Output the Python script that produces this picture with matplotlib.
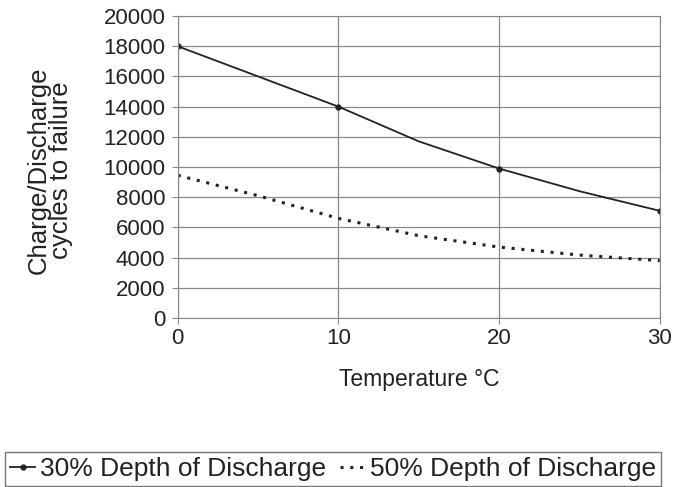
import matplotlib.pyplot as plt

plt.rcParams['font.family'] = ['Liberation Sans', 'DejaVu Sans']

# temperatures (degC) and cycles to failure
temp = [0, 5, 10, 15, 20, 25, 30]
dod30 = [18000, 16000, 14000, 11700, 9900, 8400, 7100]
dod50 = [9450, 8100, 6600, 5450, 4700, 4170, 3800]

xticks = [0, 10, 20, 30]
yticks = list(range(0, 20001, 2000))

fig = plt.figure(figsize=(6.76, 4.87), dpi=100)
ax = fig.add_axes([0.263, 0.347, 0.713, 0.62])

ax.plot(temp, dod30, color='#222222', lw=1.3, marker='o', ms=3.5,
        markevery=2, label='30% Depth of Discharge')
ax.plot(temp, dod50, color='#222222', lw=2.2, ls=(0, (1, 2.2)),
        label='50% Depth of Discharge')

ax.set_xlim(0, 30)
ax.set_ylim(0, 20000)
ax.set_xticks(xticks)
ax.set_yticks(yticks)
ax.grid(True, color='#888888', lw=0.9)
for s in ax.spines.values():
    s.set_color('#888888')
ax.tick_params(labelsize=16, length=4, color='#888888', colors='#222222')
ax.tick_params(axis='x', pad=3)
ax.tick_params(axis='y', pad=5)

ax.set_xlabel('Temperature °C', fontsize=16.5, color='#222222', labelpad=14)
ax.set_ylabel('Charge/Discharge\ncycles to failure', fontsize=18.5,
              color='#222222', linespacing=0.88)
ax.yaxis.set_label_coords(-0.218, 0.49)

leg = fig.legend(loc='upper left', bbox_to_anchor=(0.007, 0.072), ncol=2,
                 fontsize=19, frameon=True, fancybox=False, handlelength=0.95,
                 handletextpad=0.2, columnspacing=0.5, borderpad=0.2,
                 borderaxespad=0)
leg.get_frame().set_edgecolor('#555555')
leg.get_frame().set_linewidth(1.0)
for t in leg.get_texts():
    t.set_color('#222222')

fig.savefig('out.png', dpi=100)
